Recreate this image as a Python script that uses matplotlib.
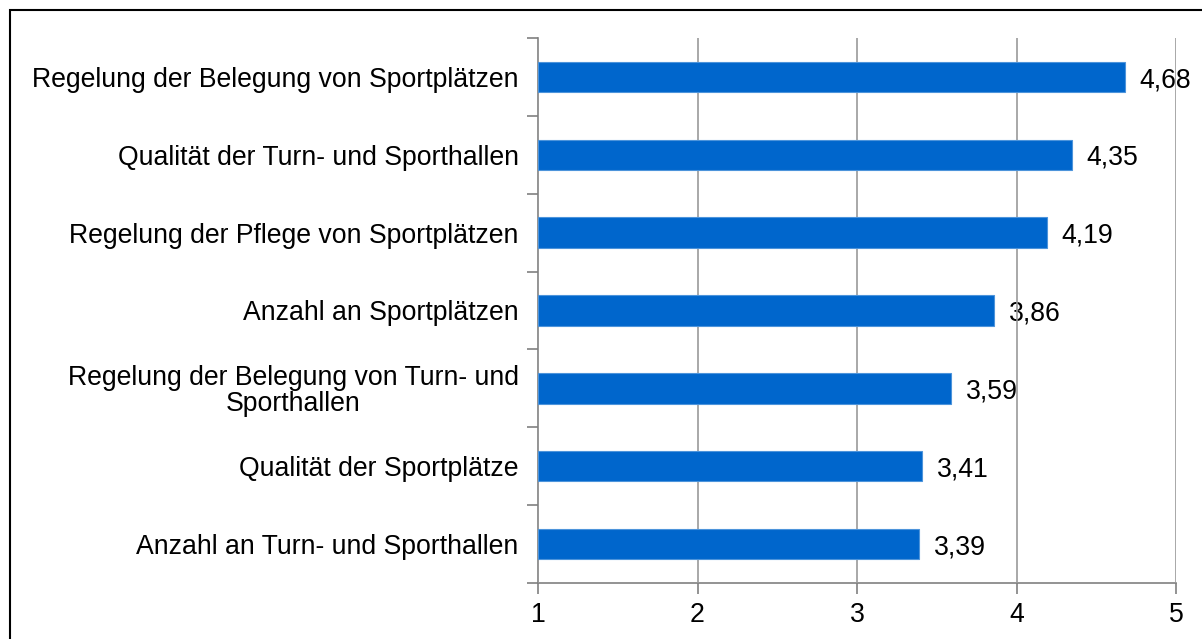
import matplotlib
matplotlib.use("Agg")
import matplotlib.pyplot as plt
from matplotlib.patches import Rectangle

categories = [
    "Regelung der Belegung von Sportplätzen",
    "Qualität der Turn- und Sporthallen",
    "Regelung der Pflege von Sportplätzen",
    "Anzahl an Sportplätzen",
    "Regelung der Belegung von Turn- und\nSporthallen",
    "Qualität der Sportplätze",
    "Anzahl an Turn- und Sporthallen",
]
values = [4.68, 4.35, 4.19, 3.86, 3.59, 3.41, 3.39]
value_labels = ["4,68", "4,35", "4,19", "3,86", "3,59", "3,41", "3,39"]
x_ticks = [1, 2, 3, 4, 5]

plt.rcParams['font.family'] = ['Liberation Sans', 'DejaVu Sans']
FS = 19.2
W, H = 1202, 639
fig = plt.figure(figsize=(W / 100, H / 100), dpi=100)
ax = fig.add_axes([538 / W, 1 - 583 / H, (1176 - 538) / W, (583 - 38) / H])

ypos = list(range(len(categories)))
ax.barh(ypos, [v - 1 for v in values], left=1, height=0.39, color="#0066CC",
        edgecolor="#4D94DB", linewidth=0.8, zorder=3)
for y, v, lab in zip(ypos, values, value_labels):
    ax.text(v + 0.09, y + 0.04, lab, va="center", ha="left", fontsize=FS, zorder=1)

ax.set_xlim(1, 5)
ax.set_ylim(len(categories) - 0.5, -0.5)
ax.set_xticks(x_ticks)
ax.set_xticklabels([str(t) for t in x_ticks], fontsize=FS)
ax.xaxis.grid(True, color="#999999", linewidth=1.2, zorder=2)
ax.set_axisbelow(False)

ax.set_yticks(ypos)
ax.set_yticklabels(categories, fontsize=FS, multialignment="center", linespacing=1.0)
ax.set_yticks([i - 0.5 for i in range(len(categories) + 1)], minor=True)
ax.tick_params(axis="y", which="major", length=0, pad=14)
ax.tick_params(axis="y", which="minor", length=8, color="#808080", width=1.2)
ax.tick_params(axis="x", length=8, color="#808080", width=1.2, pad=6)

for s in ["top", "right"]:
    ax.spines[s].set_visible(False)
for s in ["left", "bottom"]:
    ax.spines[s].set_color("#808080")
    ax.spines[s].set_linewidth(1.2)

fig.patches.append(Rectangle((10 / W, -0.1), 1.2, 1 - 10 / H + 0.1, transform=fig.transFigure,
                             fill=False, edgecolor="black", linewidth=1.5))

fig.savefig("out.png", dpi=100)
